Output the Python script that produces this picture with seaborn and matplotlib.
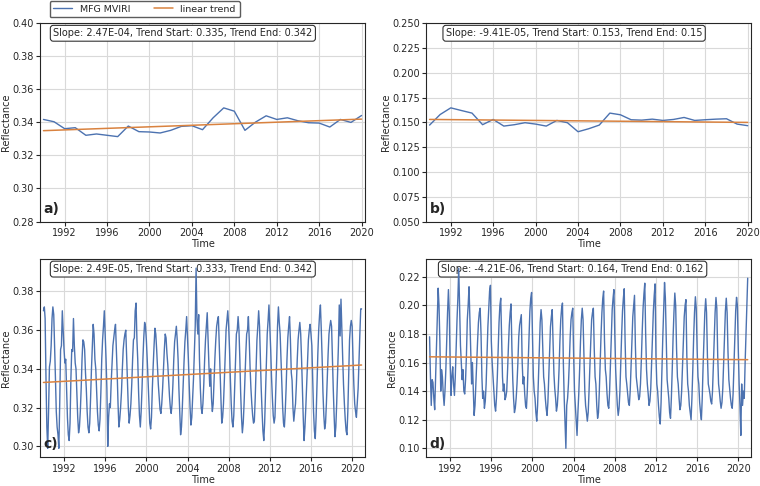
import pandas as pd
import matplotlib
matplotlib.use('Agg')
import matplotlib.pyplot as plt
import matplotlib.dates as mdates
from matplotlib.ticker import MultipleLocator
import seaborn as sns


# annual means (panels a, b)
years = list(range(1990, 2021))
annual_a = [0.3418, 0.3404, 0.3362, 0.3368, 0.3322, 0.3330, 0.3322, 0.3314, 0.3378, 0.3344,
            0.3342, 0.3336, 0.3352, 0.3376, 0.3380, 0.3356, 0.3428, 0.3488, 0.3468, 0.3352,
            0.3402, 0.3440, 0.3418, 0.3428, 0.3410, 0.3398, 0.3396, 0.3372, 0.3418, 0.3400,
            0.3442]
annual_b = [0.1473, 0.1580, 0.1647, 0.1620, 0.1594, 0.1477, 0.1530, 0.1463, 0.1477, 0.1497,
            0.1483, 0.1463, 0.1520, 0.1497, 0.1406, 0.1436, 0.1473, 0.1594, 0.1577, 0.1527,
            0.1523, 0.1533, 0.1520, 0.1530, 0.1550, 0.1520, 0.1527, 0.1533, 0.1537, 0.1483,
            0.1467]

# monthly means (panels c, d), one row per year Jan..Dec
monthly_c_rows = [
    [0.370, 0.372, 0.366, 0.335, 0.310, 0.299, 0.318, 0.341, 0.344, 0.352, 0.366, 0.372],
    [0.368, 0.352, 0.336, 0.318, 0.310, 0.306, 0.299, 0.322, 0.350, 0.352, 0.370, 0.360],
    [0.350, 0.343, 0.345, 0.330, 0.315, 0.306, 0.303, 0.312, 0.335, 0.350, 0.349, 0.366],
    [0.352, 0.343, 0.340, 0.328, 0.315, 0.307, 0.310, 0.318, 0.330, 0.345, 0.355, 0.354],
    [0.350, 0.338, 0.330, 0.318, 0.310, 0.307, 0.312, 0.325, 0.340, 0.352, 0.363, 0.358],
    [0.345, 0.340, 0.330, 0.318, 0.311, 0.308, 0.314, 0.328, 0.345, 0.355, 0.362, 0.370],
    [0.358, 0.345, 0.330, 0.300, 0.315, 0.322, 0.320, 0.333, 0.343, 0.352, 0.356, 0.360],
    [0.363, 0.350, 0.338, 0.322, 0.310, 0.314, 0.320, 0.328, 0.340, 0.350, 0.355, 0.358],
    [0.360, 0.346, 0.333, 0.320, 0.312, 0.316, 0.322, 0.332, 0.345, 0.355, 0.356, 0.370],
    [0.374, 0.355, 0.345, 0.328, 0.316, 0.310, 0.318, 0.330, 0.345, 0.356, 0.364, 0.362],
    [0.355, 0.345, 0.334, 0.322, 0.312, 0.309, 0.315, 0.330, 0.342, 0.352, 0.361, 0.358],
    [0.350, 0.340, 0.332, 0.325, 0.319, 0.317, 0.322, 0.330, 0.340, 0.350, 0.358, 0.356],
    [0.348, 0.342, 0.334, 0.326, 0.320, 0.317, 0.322, 0.332, 0.345, 0.354, 0.358, 0.362],
    [0.355, 0.345, 0.330, 0.318, 0.306, 0.310, 0.320, 0.332, 0.344, 0.354, 0.360, 0.367],
    [0.356, 0.345, 0.332, 0.320, 0.311, 0.315, 0.325, 0.335, 0.348, 0.362, 0.392, 0.366],
    [0.358, 0.368, 0.345, 0.330, 0.320, 0.317, 0.322, 0.332, 0.345, 0.355, 0.362, 0.369],
    [0.355, 0.341, 0.331, 0.340, 0.325, 0.318, 0.322, 0.334, 0.346, 0.355, 0.362, 0.365],
    [0.367, 0.352, 0.338, 0.325, 0.312, 0.315, 0.322, 0.334, 0.348, 0.360, 0.365, 0.370],
    [0.362, 0.350, 0.335, 0.322, 0.313, 0.310, 0.316, 0.330, 0.345, 0.358, 0.360, 0.367],
    [0.360, 0.345, 0.328, 0.315, 0.307, 0.312, 0.322, 0.335, 0.348, 0.358, 0.360, 0.367],
    [0.355, 0.340, 0.330, 0.322, 0.316, 0.312, 0.313, 0.325, 0.340, 0.355, 0.362, 0.370],
    [0.362, 0.345, 0.330, 0.318, 0.308, 0.303, 0.312, 0.328, 0.345, 0.358, 0.365, 0.373],
    [0.362, 0.350, 0.336, 0.325, 0.316, 0.312, 0.315, 0.330, 0.345, 0.362, 0.372, 0.364],
    [0.358, 0.345, 0.332, 0.320, 0.312, 0.310, 0.318, 0.330, 0.345, 0.356, 0.362, 0.367],
    [0.355, 0.338, 0.334, 0.320, 0.313, 0.318, 0.322, 0.332, 0.345, 0.355, 0.360, 0.364],
    [0.358, 0.345, 0.330, 0.315, 0.303, 0.310, 0.320, 0.332, 0.345, 0.355, 0.360, 0.363],
    [0.358, 0.352, 0.335, 0.318, 0.308, 0.304, 0.315, 0.332, 0.348, 0.360, 0.368, 0.373],
    [0.360, 0.345, 0.328, 0.316, 0.309, 0.312, 0.322, 0.335, 0.348, 0.358, 0.362, 0.365],
    [0.362, 0.345, 0.330, 0.316, 0.305, 0.310, 0.322, 0.338, 0.352, 0.373, 0.357, 0.376],
    [0.360, 0.345, 0.332, 0.322, 0.314, 0.308, 0.306, 0.318, 0.338, 0.355, 0.362, 0.365],
    [0.362, 0.345, 0.332, 0.322, 0.318, 0.315, 0.322, 0.330, 0.345, 0.358, 0.371, 0.371],
]
monthly_d_rows = [
    [0.178, 0.150, 0.130, 0.148, 0.146, 0.135, 0.127, 0.148, 0.170, 0.192, 0.212, 0.200],
    [0.175, 0.140, 0.155, 0.150, 0.138, 0.130, 0.140, 0.155, 0.175, 0.195, 0.211, 0.195],
    [0.160, 0.137, 0.150, 0.157, 0.145, 0.137, 0.150, 0.170, 0.190, 0.205, 0.226, 0.200],
    [0.172, 0.160, 0.148, 0.155, 0.140, 0.138, 0.148, 0.165, 0.190, 0.200, 0.213, 0.190],
    [0.165, 0.145, 0.160, 0.140, 0.123, 0.130, 0.145, 0.160, 0.175, 0.188, 0.195, 0.198],
    [0.180, 0.150, 0.135, 0.140, 0.128, 0.133, 0.145, 0.165, 0.185, 0.198, 0.210, 0.214],
    [0.175, 0.160, 0.150, 0.140, 0.130, 0.126, 0.135, 0.150, 0.170, 0.188, 0.200, 0.205],
    [0.178, 0.150, 0.140, 0.145, 0.134, 0.136, 0.140, 0.155, 0.172, 0.186, 0.195, 0.201],
    [0.170, 0.148, 0.135, 0.125, 0.128, 0.135, 0.145, 0.160, 0.178, 0.186, 0.190, 0.1935],
    [0.160, 0.145, 0.150, 0.138, 0.130, 0.128, 0.140, 0.158, 0.178, 0.196, 0.205, 0.209],
    [0.180, 0.150, 0.140, 0.135, 0.125, 0.119, 0.130, 0.150, 0.170, 0.188, 0.197, 0.190],
    [0.170, 0.150, 0.145, 0.135, 0.128, 0.123, 0.132, 0.150, 0.170, 0.185, 0.192, 0.197],
    [0.175, 0.152, 0.142, 0.135, 0.126, 0.130, 0.140, 0.155, 0.175, 0.190, 0.198, 0.2016],
    [0.160, 0.135, 0.118, 0.100, 0.130, 0.135, 0.145, 0.160, 0.178, 0.190, 0.195, 0.198],
    [0.165, 0.140, 0.130, 0.120, 0.109, 0.125, 0.138, 0.155, 0.175, 0.190, 0.198, 0.190],
    [0.165, 0.140, 0.130, 0.125, 0.119, 0.125, 0.140, 0.158, 0.175, 0.190, 0.195, 0.198],
    [0.170, 0.150, 0.145, 0.130, 0.121, 0.125, 0.140, 0.160, 0.180, 0.195, 0.205, 0.210],
    [0.175, 0.155, 0.150, 0.138, 0.130, 0.128, 0.140, 0.160, 0.180, 0.197, 0.205, 0.211],
    [0.180, 0.155, 0.142, 0.130, 0.123, 0.128, 0.140, 0.160, 0.180, 0.196, 0.205, 0.2116],
    [0.175, 0.150, 0.145, 0.138, 0.132, 0.130, 0.140, 0.158, 0.178, 0.192, 0.200, 0.207],
    [0.172, 0.150, 0.145, 0.140, 0.134, 0.136, 0.145, 0.162, 0.182, 0.198, 0.208, 0.2155],
    [0.180, 0.155, 0.145, 0.138, 0.130, 0.133, 0.142, 0.160, 0.180, 0.196, 0.207, 0.215],
    [0.165, 0.145, 0.140, 0.130, 0.122, 0.117, 0.132, 0.155, 0.178, 0.196, 0.216, 0.205],
    [0.175, 0.148, 0.142, 0.135, 0.125, 0.121, 0.135, 0.155, 0.178, 0.195, 0.2086, 0.200],
    [0.170, 0.150, 0.145, 0.135, 0.127, 0.130, 0.140, 0.158, 0.178, 0.192, 0.200, 0.204],
    [0.165, 0.145, 0.140, 0.130, 0.125, 0.120, 0.135, 0.155, 0.178, 0.195, 0.206, 0.198],
    [0.170, 0.150, 0.145, 0.132, 0.125, 0.120, 0.135, 0.158, 0.178, 0.195, 0.2046, 0.195],
    [0.165, 0.145, 0.142, 0.138, 0.133, 0.131, 0.140, 0.158, 0.178, 0.195, 0.2055, 0.198],
    [0.165, 0.145, 0.140, 0.133, 0.128, 0.132, 0.142, 0.160, 0.180, 0.196, 0.205, 0.195],
    [0.168, 0.148, 0.142, 0.135, 0.130, 0.128, 0.138, 0.158, 0.178, 0.196, 0.2056, 0.200],
    [0.170, 0.145, 0.130, 0.109, 0.145, 0.130, 0.140, 0.135, 0.160, 0.180, 0.200, 0.219],
]
monthly_c = [v for row in monthly_c_rows for v in row]
monthly_d = [v for row in monthly_d_rows for v in row]

# trend numbers as printed in the boxes
slopes = ['2.47E-04', '-9.41E-05', '2.49E-05', '-4.21E-06']
trend_start = [0.335, 0.153, 0.333, 0.164]
trend_end = [0.342, 0.15, 0.342, 0.162]
panel_tags = ['a)', 'b)', 'c)', 'd)']

annual_dates = pd.to_datetime([f'{y}-01-01' for y in years])
monthly_dates = pd.date_range('1990-01-01', periods=len(monthly_c), freq='MS')

blue = '#4C72B0'
orange = '#D9823F'

sns.set_theme(style='ticks')
plt.rcParams['font.family'] = ['DejaVu Sans']
plt.rcParams['axes.linewidth'] = 0.8

fig, axes = plt.subplots(2, 2, figsize=(7.6, 4.86), dpi=100)
plt.subplots_adjust(left=0.053, right=0.988, bottom=0.059, top=0.952, wspace=0.19, hspace=0.19)

series = [(annual_dates, annual_a), (annual_dates, annual_b),
          (monthly_dates, monthly_c), (monthly_dates, monthly_d)]
text_x = [0.04, 0.06, 0.04, 0.046]

for i, ax in enumerate(axes.flat):
    dates, vals = series[i]
    sns.lineplot(x=dates, y=vals, ax=ax, color=blue, linewidth=1.0, label='MFG MVIRI', legend=False)
    sns.lineplot(x=[dates[0], dates[-1]], y=[trend_start[i], trend_end[i]], ax=ax,
                 color=orange, linewidth=1.1, label='linear trend', legend=False)
    ax.margins(x=0.01)
    ax.grid(True, color='0.85', linewidth=0.8)
    ax.set_axisbelow(True)
    ax.xaxis.set_major_locator(mdates.YearLocator(4))
    ax.xaxis.set_major_formatter(mdates.DateFormatter('%Y'))
    ax.tick_params(labelsize=7, length=3, width=0.8, pad=1.5)
    ax.set_xlabel('Time', fontsize=7, labelpad=1)
    ax.set_ylabel('Reflectance', fontsize=7, labelpad=1)

    box_txt = f'Slope: {slopes[i]}, Trend Start: {trend_start[i]}, Trend End: {trend_end[i]}'
    ax.text(text_x[i], 0.975, box_txt, transform=ax.transAxes, fontsize=7, va='top', ha='left',
            bbox=dict(boxstyle='round,pad=0.3', facecolor='white', edgecolor='0.2', linewidth=0.8),
            zorder=1)
    ax.text(0.01, 0.03, panel_tags[i], transform=ax.transAxes, fontsize=10,
            fontweight='bold', va='bottom', ha='left')

axes[0, 0].set_ylim(0.28, 0.40)
axes[0, 0].yaxis.set_major_locator(MultipleLocator(0.02))
axes[0, 1].set_ylim(0.05, 0.25)
axes[0, 1].yaxis.set_major_locator(MultipleLocator(0.025))
axes[1, 0].yaxis.set_major_locator(MultipleLocator(0.02))
axes[1, 1].yaxis.set_major_locator(MultipleLocator(0.02))

handles, labels = axes[0, 0].get_legend_handles_labels()
fig.legend(handles, labels, loc='upper left', bbox_to_anchor=(0.064, 1.0), ncol=2,
           fontsize=6.8, frameon=True, edgecolor='0.2', borderaxespad=0.1, columnspacing=2.5)

plt.savefig('out.png', dpi=100)
